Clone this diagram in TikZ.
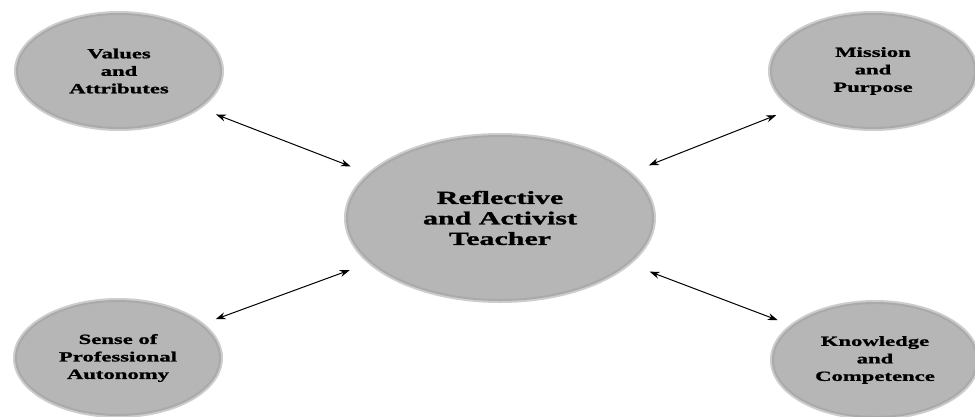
\documentclass[tikz,border=0pt]{standalone}
\usepackage{fontspec}
\newfontfamily\blobfont{Liberation Serif}[FakeStretch=1.62, BoldFeatures={FakeBold=1.3}]
\usetikzlibrary{shapes.geometric,arrows.meta}
\definecolor{blobfill}{RGB}{182,182,182}
\definecolor{blobedge}{RGB}{170,170,170}
\definecolor{blobhalo}{RGB}{205,205,205}
\tikzset{
  blob/.style={ellipse, inner sep=0pt, fill=blobfill, draw=blobedge, line width=2pt,
    preaction={draw=blobhalo, line width=6pt},
    align=center, text=black},
  small/.style={blob, minimum width=204pt, minimum height=114pt,
    font=\blobfont\bfseries\fontsize{14}{17.5}\selectfont},
  big/.style={blob, minimum width=306pt, minimum height=164pt,
    font=\blobfont\bfseries\fontsize{18.5}{20.5}\selectfont},
  biarrow/.style={{Stealth[length=10pt,width=7pt]}-{Stealth[length=10pt,width=7pt]}, line width=1pt, black, shorten <=104pt, shorten >=160pt}
}
\begin{document}
\begin{tikzpicture}[x=1pt,y=-1pt]
\useasboundingbox (0,0) rectangle (975,416);
\node[big] (c) at (500,218) {Reflective\\and Activist\\Teacher};
\node[small] (tl) at (119,71) {Values\\and\\Attributes};
\node[small] (tr) at (873,71) {Mission\\and\\Purpose};
\node[small] (bl) at (118,358) {Sense of\\Professional\\Autonomy};
\node[small] (br) at (875,360) {Knowledge\\and\\Competence};
\draw[biarrow] ([yshift=-6pt]tl.center) -- ([yshift=-6pt]c.center);
\draw[biarrow] ([yshift=-6pt]tr.center) -- ([yshift=-6pt]c.center);
\draw[biarrow] ([yshift=3pt]bl.center) -- ([yshift=3pt]c.center);
\draw[biarrow] ([yshift=3pt]br.center) -- ([yshift=3pt]c.center);
\end{tikzpicture}
\end{document}
